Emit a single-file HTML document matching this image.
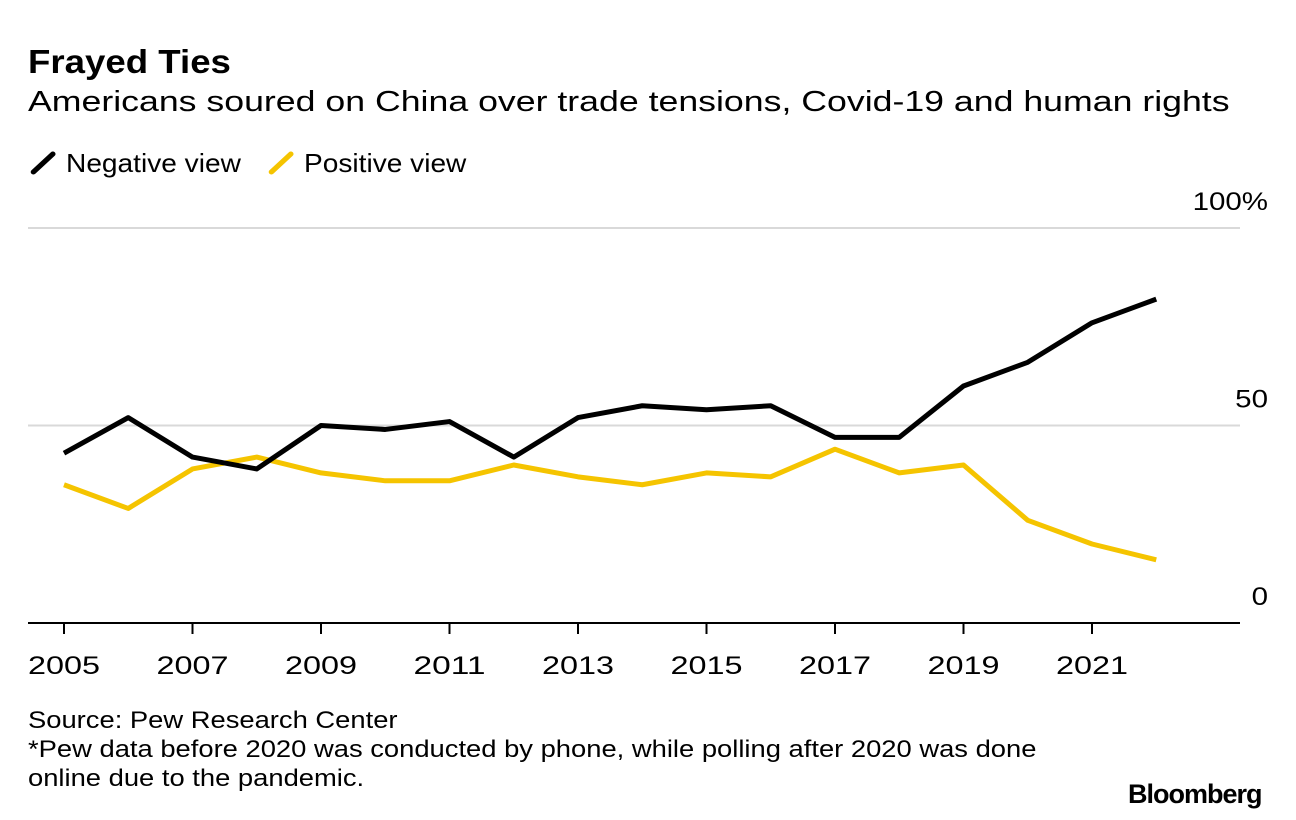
<!DOCTYPE html>
<html><head><meta charset="utf-8"><style>
body{margin:0;background:#fff;font-family:"Liberation Sans",sans-serif;}
#wrap{position:relative;width:1296px;height:820px;overflow:hidden;}
.t{position:absolute;white-space:nowrap;color:#000;transform-origin:0 0;}
</style></head><body>
<div id="wrap">
<div class="t" style="left:28px;top:43px;font-size:33px;font-weight:bold;transform:scaleX(1.11);">Frayed Ties</div>
<div class="t" style="left:28px;top:86px;font-size:29px;transform:scaleX(1.23);">Americans soured on China over trade tensions, Covid-19 and human rights</div>
<div class="t" style="left:28px;top:148px;font-size:26px;transform:scaleX(1.08);"><svg width="28" height="26" style="vertical-align:-4px"><line x1="5" y1="22" x2="23" y2="4" stroke="#000" stroke-width="5" stroke-linecap="round"/></svg> Negative view</div>
<div class="t" style="left:266px;top:148px;font-size:26px;transform:scaleX(1.08);"><svg width="28" height="26" style="vertical-align:-4px"><line x1="5" y1="22" x2="23" y2="4" stroke="#f5c400" stroke-width="5" stroke-linecap="round"/></svg> Positive view</div>
<svg id="chart" width="1296" height="820" style="position:absolute;left:0;top:0"></svg>
<div class="t" style="left:28px;top:706px;font-size:24px;line-height:29px;transform:scaleX(1.14);">Source: Pew Research Center<br>*Pew data before 2020 was conducted by phone, while polling after 2020 was done<br>online due to the pandemic.</div>
<div class="t" style="left:1128px;top:779px;font-size:27px;font-weight:bold;letter-spacing:-1px;">Bloomberg</div>
</div>
<script>
const years=[2005,2006,2007,2008,2009,2010,2011,2012,2013,2014,2015,2016,2017,2018,2019,2020,2021,2022];
const negative=[43,52,42,39,50,49,51,42,52,55,54,55,47,47,60,66,76,82];
const positive=[35,29,39,42,38,36,36,40,37,35,38,37,44,38,40,26,20,16];
const yTicks=[0,50,100];
const yTickLabels=["0","50","100%"];
const xTickYears=[2005,2007,2009,2011,2013,2015,2017,2019,2021];
const NS="http://www.w3.org/2000/svg";
const svg=document.getElementById('chart');
const x=v=>64+(v-2005)*64.25;
const y=v=>623-v*3.95;
function mk(t,a){const e=document.createElementNS(NS,t);for(const k in a)e.setAttribute(k,a[k]);svg.appendChild(e);return e;}
yTicks.forEach((v,i)=>{
  if(v>0){const g=mk('line',{x1:28,x2:1240,y1:y(v),y2:y(v),stroke:'#d9d9d9','stroke-width':2});
  
  }
  const t=mk('text',{x:1268,y:y(v)-18,'text-anchor':'end','font-size':25,'font-family':'Liberation Sans, sans-serif',transform:'translate(1268 0) scale(1.18 1) translate(-1268 0)'});
  t.textContent=yTickLabels[i];
  
  
});
const ax=mk('line',{x1:28,x2:1240,y1:623,y2:623,stroke:'#000','stroke-width':2});


xTickYears.forEach(v=>{
  const tk=mk('line',{x1:x(v),x2:x(v),y1:623,y2:634,stroke:'#000','stroke-width':2});
  
  
  const t=mk('text',{x:x(v),y:674,'text-anchor':'middle','font-size':25,'font-family':'Liberation Sans, sans-serif',textLength:72,lengthAdjust:'spacingAndGlyphs'});
  t.textContent=v;
  
  
});
function line(data,color,name){
  const p=mk('polyline',{points:data.map((v,i)=>x(years[i])+','+y(v)).join(' '),fill:'none',stroke:color,'stroke-width':5,'stroke-linejoin':'round'});
  
  
}
line(positive,'#f5c400','positive-view-line');
line(negative,'#000','negative-view-line');
</script>
</body></html>
